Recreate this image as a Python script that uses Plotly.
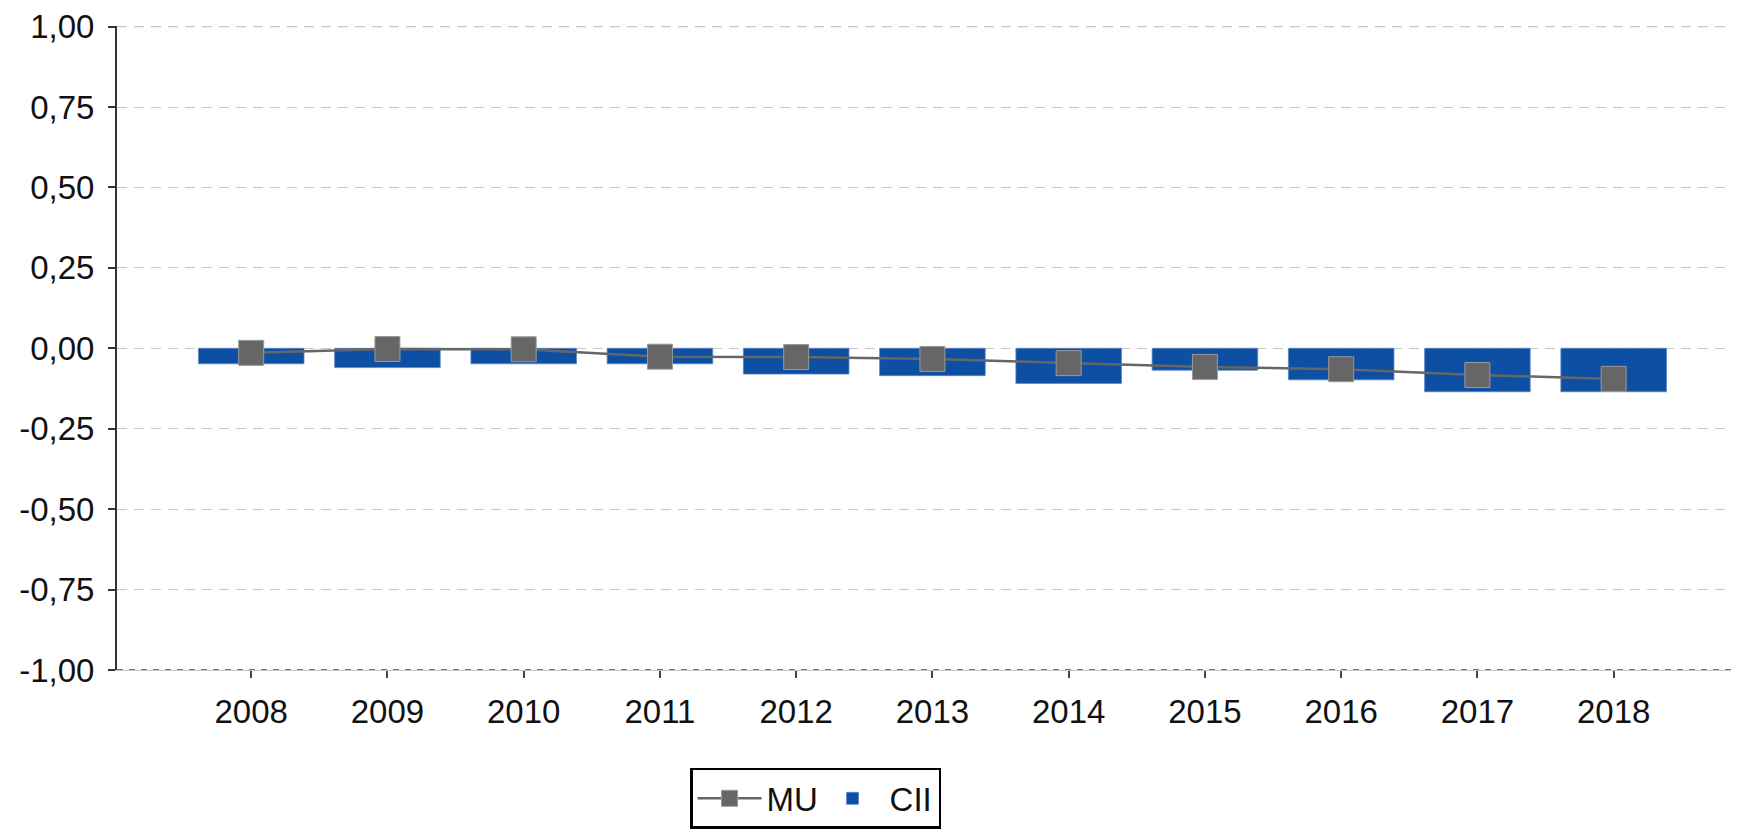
import plotly.graph_objects as go

years = ["2008", "2009", "2010", "2011", "2012", "2013", "2014", "2015", "2016", "2017", "2018"]
mu_values = [-0.014, -0.002, -0.003, -0.026, -0.027, -0.033, -0.046, -0.058, -0.065, -0.083, -0.095]
cii_values = [-0.048, -0.060, -0.048, -0.048, -0.080, -0.085, -0.109, -0.068, -0.098, -0.135, -0.135]
y_ticks = [-1.0, -0.75, -0.5, -0.25, 0.0, 0.25, 0.5, 0.75, 1.0]
y_tick_labels = ["-1,00", "-0,75", "-0,50", "-0,25", "0,00", "0,25", "0,50", "0,75", "1,00"]

FONT = "Liberation Sans, Arial, sans-serif"

fig = go.Figure()
fig.add_trace(go.Scatter(
    x=years, y=mu_values, name="MU", mode="lines+markers",
    line=dict(color="#666666", width=2.5),
    marker=dict(symbol="square", size=25, color="#666666",
                line=dict(color="#9a9a9a", width=1)),
))
fig.add_trace(go.Bar(
    x=years, y=cii_values, name="CII",
    marker=dict(color="#0c4fa3", line=dict(color="#5b86c4", width=0.8)),
    width=0.775,
))

fig.update_layout(
    width=1731, height=829,
    margin=dict(l=109, r=0, t=18, b=167, autoexpand=False),
    paper_bgcolor="white", plot_bgcolor="white",
    font=dict(family=FONT, size=33, color="#111111"),
    showlegend=True,
    legend=dict(
        orientation="h", x=0.3533, y=-0.152, xanchor="left", yanchor="top",
        bordercolor="#000000", borderwidth=2.5, bgcolor="white",
        font=dict(family=FONT, size=33, color="#111111"),
        itemwidth=64, entrywidth=44, traceorder="normal",
    ),
    xaxis=dict(
        type="category", range=[-0.985, 10.92], automargin=False,
        showgrid=False, showline=True, linecolor="#c8c8c8", linewidth=1,
        ticks="outside", ticklen=7, tickcolor="#444444", tickwidth=1.5,
        ticklabelstandoff=5, zeroline=False, ticklabeloverflow="allow",
    ),
    yaxis=dict(
        range=[-1, 1.002], tickvals=y_ticks, ticktext=y_tick_labels, automargin=False,
        showgrid=True, gridcolor="#c8c8c8", gridwidth=1.2, griddash="10px,7px",
        showline=True, linecolor="#333333", linewidth=2,
        ticks="outside", ticklen=7, tickcolor="#333333", tickwidth=1.5,
        ticklabelstandoff=7, zeroline=False, ticklabeloverflow="allow",
    ),
    shapes=[
        dict(type="line", xref="paper", yref="y", x0=0, x1=1, y0=-1, y1=-1,
             line=dict(color="#444444", width=1.5, dash="6px,6px"), layer="above"),
        dict(type="line", xref="paper", yref="y", x0=0, x1=1, y0=1, y1=1,
             line=dict(color="#c8c8c8", width=1.2, dash="10px,7px"), layer="below"),
    ],
)

fig.write_html("out.html")
